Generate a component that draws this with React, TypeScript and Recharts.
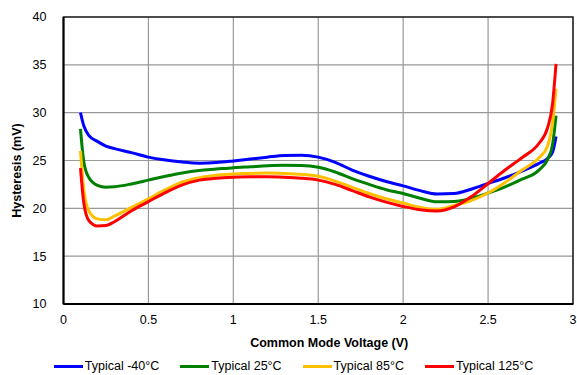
import React from 'react';
import {
  LineChart,
  Line,
  XAxis,
  YAxis,
  CartesianGrid,
  Legend,
  ReferenceArea,
} from 'recharts';

// common mode voltage (V)
const voltage = [
  0.1, 0.12, 0.15, 0.2, 0.25, 0.3, 0.4, 0.5, 0.6, 0.7, 0.8, 0.9, 1.0, 1.1, 1.2, 1.3, 1.4, 1.5,
  1.6, 1.7, 1.8, 1.9, 2.0, 2.1, 2.2, 2.3, 2.4, 2.5, 2.6, 2.7, 2.8, 2.85, 2.88, 2.9,
];

// hysteresis (mV)
const typM40 = [
  30.0, 28.6, 27.6, 27.0, 26.5, 26.24, 25.82, 25.35, 25.05, 24.85, 24.72, 24.78, 24.95, 25.15,
  25.35, 25.52, 25.55, 25.35, 24.8, 24.0, 23.35, 22.8, 22.35, 21.85, 21.5, 21.55, 22.0, 22.6,
  23.2, 23.9, 24.7, 25.2, 25.9, 27.5,
];
const typ25 = [
  28.3, 24.8, 23.2, 22.4, 22.2, 22.25, 22.55, 22.95, 23.35, 23.7, 23.95, 24.1, 24.25, 24.35,
  24.45, 24.5, 24.48, 24.3, 23.8, 23.1, 22.5, 21.95, 21.55, 21.05, 20.68, 20.72, 21.05, 21.6,
  22.25, 23.05, 24.0, 25.1, 26.7, 29.7,
];
const typ85 = [
  26.0, 21.9, 19.7, 18.9, 18.8, 19.2, 20.1, 21.0, 21.95, 22.75, 23.2, 23.45, 23.6, 23.65, 23.7,
  23.65, 23.55, 23.35, 22.85, 22.2, 21.55, 21.0, 20.55, 20.1, 19.9, 20.3, 20.8, 21.6, 22.7,
  24.0, 25.3, 26.5, 29.0, 32.5,
];
const typ125 = [
  24.2, 20.5, 18.7, 18.15, 18.2, 18.6, 19.75, 20.7, 21.65, 22.45, 22.95, 23.15, 23.25, 23.3,
  23.3, 23.25, 23.15, 22.95, 22.5, 21.85, 21.2, 20.65, 20.2, 19.85, 19.72, 20.15, 21.2, 22.6,
  24.0, 25.3, 26.8, 28.4, 31.0, 35.1,
];

const xTicks = [0, 0.5, 1, 1.5, 2, 2.5, 3];
const yTicks = [10, 15, 20, 25, 30, 35, 40];

const series = [
  { key: 'm40', name: 'Typical -40°C', color: '#0000ff', values: typM40 },
  { key: 't25', name: 'Typical 25°C', color: '#008000', values: typ25 },
  { key: 't85', name: 'Typical 85°C', color: '#ffc000', values: typ85 },
  { key: 't125', name: 'Typical 125°C', color: '#ff0000', values: typ125 },
];

const rows = voltage.map((v, i) => {
  const row: Record<string, number> = { v };
  series.forEach((s) => {
    row[s.key] = s.values[i];
  });
  return row;
});

const FONT = 12.5;

const LegendRow = () => (
  <div
    style={{
      display: 'flex',
      justifyContent: 'center',
      alignItems: 'center',
      height: 18,
      paddingLeft: 14,
      gap: 21,
      fontSize: FONT,
      color: '#000',
    }}
  >
    {series.map((s) => (
      <div key={s.key} style={{ display: 'flex', alignItems: 'center' }}>
        <span style={{ width: 29, height: 3, background: s.color, marginRight: 2 }} />
        <span>{s.name}</span>
      </div>
    ))}
  </div>
);

// axis titles sit a little off-centre in the original
const XTitle = (props: any) => {
  const vb = props.viewBox || { x: 0, y: 0, width: 0, height: 0 };
  return (
    <text
      x={vb.x + vb.width / 2 + 11}
      y={vb.y + vb.height - 10.5}
      textAnchor="middle"
      fill="#000"
      fontSize={FONT}
      fontWeight="bold"
    >
      Common Mode Voltage (V)
    </text>
  );
};

const YTitle = (props: any) => {
  const vb = props.viewBox || { x: 0, y: 0, width: 0, height: 0 };
  const cx = vb.x + 17;
  const cy = vb.y + vb.height / 2 + 10;
  return (
    <text
      x={cx}
      y={cy}
      transform={`rotate(-90 ${cx} ${cy})`}
      textAnchor="middle"
      dominantBaseline="central"
      fill="#000"
      fontSize={FONT}
      fontWeight="bold"
    >
      Hysteresis (mV)
    </text>
  );
};

export default function App() {
  return (
    <div
      style={{
        position: 'absolute',
        left: 0,
        top: 0,
        width: 577,
        height: 375,
        background: '#fff',
        fontFamily: '"Liberation Sans", Arial, sans-serif',
      }}
    >
      <LineChart width={577} height={375} data={rows} margin={{ top: 17, right: 4, left: 0, bottom: 0 }}>
        <CartesianGrid stroke="#999" strokeWidth={1.2} />
        <XAxis
          dataKey="v"
          type="number"
          domain={[0, 3]}
          ticks={xTicks}
          height={53}
          tickLine={false}
          axisLine={{ stroke: '#000', strokeWidth: 2 }}
          tick={{ fill: '#000', fontSize: FONT }}
          tickMargin={5}
          label={XTitle}
        />
        <YAxis
          type="number"
          domain={[10, 40]}
          ticks={yTicks}
          width={63.5}
          tickLine={false}
          axisLine={{ stroke: '#000', strokeWidth: 2 }}
          tick={{ fill: '#000', fontSize: FONT }}
          tickMargin={11}
          label={YTitle}
        />
        <ReferenceArea
          x1={0}
          x2={3}
          y1={10}
          y2={40}
          fill="none"
          stroke="#222"
          strokeWidth={1.5}
          ifOverflow="visible"
        />
        <Legend verticalAlign="bottom" content={<LegendRow />} />
        {series.map((s) => (
          <Line
            key={s.key}
            dataKey={s.key}
            name={s.name}
            type="monotone"
            stroke={s.color}
            strokeWidth={3}
            dot={false}
            activeDot={false}
            isAnimationActive={false}
          />
        ))}
      </LineChart>
    </div>
  );
}
